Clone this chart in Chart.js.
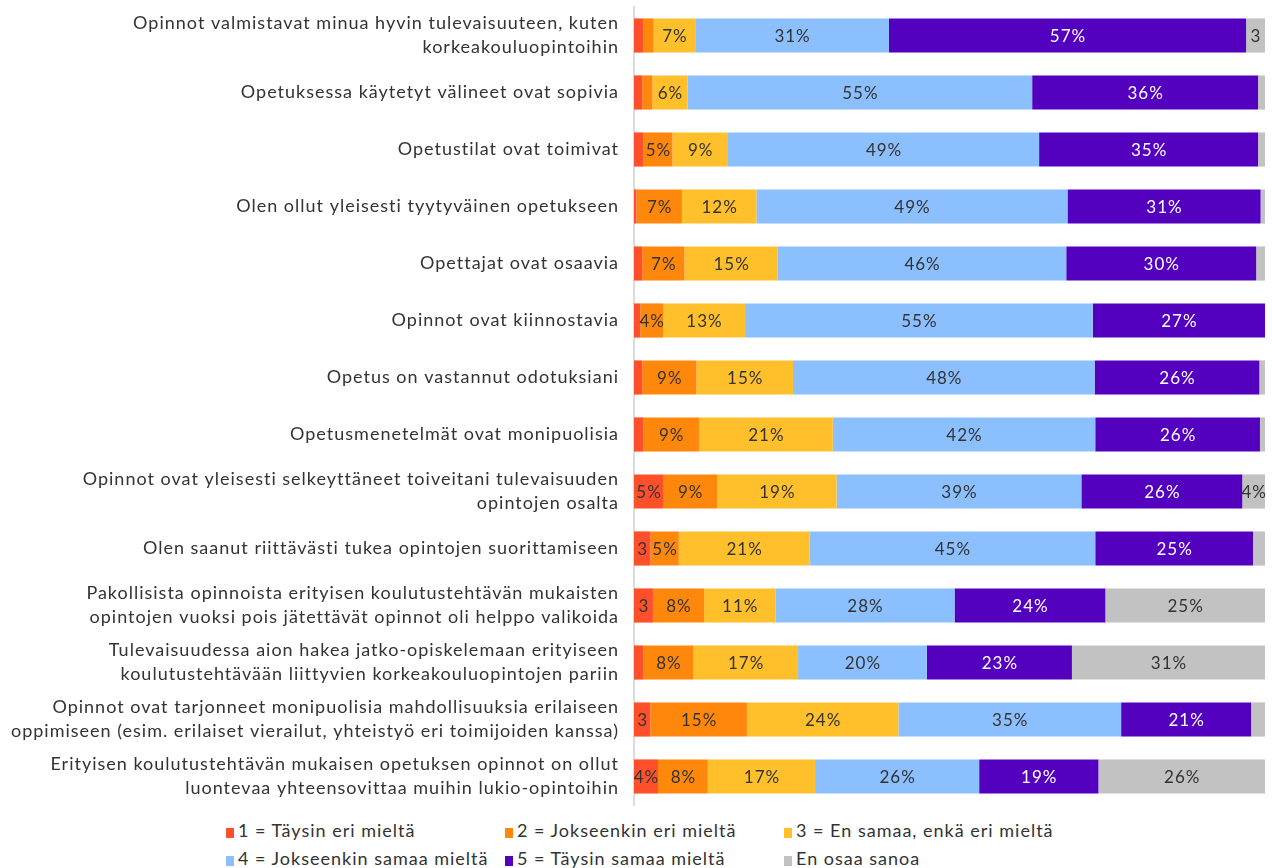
<!DOCTYPE html>
<html>
<head>
<meta charset="utf-8">
<script src="https://cdn.jsdelivr.net/npm/chart.js@4/dist/chart.umd.min.js"></script>
<style>
  body { margin: 0; background: #fff; font-family: Lato, sans-serif; }
  #wrap { position: relative; width: 1272px; height: 812px; }
  #legend { position: absolute; left: 226px; top: 816px; width: 900px; }
  .item { display: inline-block; width: 279px; height: 28px; line-height: 28px; font-size: 18px; letter-spacing: 1px; color: #333; white-space: nowrap; }
  .item i { display: inline-block; width: 8px; height: 10px; margin-right: 4px; vertical-align: -1px; }
</style>
</head>
<body>
<div id="wrap"><canvas id="chart"></canvas></div>
<div id="legend"></div>
<script>
// Kysymykset (y-akseli)
var kysymykset = [
    ["Opinnot valmistavat minua hyvin tulevaisuuteen, kuten", "korkeakouluopintoihin"],
    "Opetuksessa käytetyt välineet ovat sopivia",
    "Opetustilat ovat toimivat",
    "Olen ollut yleisesti tyytyväinen opetukseen",
    "Opettajat ovat osaavia",
    "Opinnot ovat kiinnostavia",
    "Opetus on vastannut odotuksiani",
    "Opetusmenetelmät ovat monipuolisia",
    ["Opinnot ovat yleisesti selkeyttäneet toiveitani tulevaisuuden", "opintojen osalta"],
    "Olen saanut riittävästi tukea opintojen suorittamiseen",
    ["Pakollisista opinnoista erityisen koulutustehtävän mukaisten", "opintojen vuoksi pois jätettävät opinnot oli helppo valikoida"],
    ["Tulevaisuudessa aion hakea jatko-opiskelemaan erityiseen", "koulutustehtävään liittyvien korkeakouluopintojen pariin"],
    ["Opinnot ovat tarjonneet monipuolisia mahdollisuuksia erilaiseen", "oppimiseen (esim. erilaiset vierailut, yhteistyö eri toimijoiden kanssa)"],
    ["Erityisen koulutustehtävän mukaisen opetuksen opinnot on ollut", "luontevaa yhteensovittaa muihin lukio-opintoihin"]
];

var vastaukset = [
    "1 = Täysin eri mieltä",
    "2 = Jokseenkin eri mieltä",
    "3 = En samaa, enkä eri mieltä",
    "4 = Jokseenkin samaa mieltä",
    "5 = Täysin samaa mieltä",
    "En osaa sanoa"
];

// Osuudet prosentteina, yksi lista per vastausvaihtoehto
var taysinEri     = [1.5, 1.3, 1.5, 0.4, 1.3, 1.0, 1.3, 1.5, 4.6, 2.6, 3.0, 1.5, 2.6, 3.8];
var jokseenkinEri = [1.6, 1.6, 4.6, 7.2, 6.7, 3.6, 8.6, 8.8, 8.6, 4.5, 8.1, 7.9, 15.3, 7.9];
var eiSamaaEiEri  = [6.6, 5.6, 8.8, 11.8, 14.8, 13.0, 15.3, 21.2, 18.9, 20.7, 11.3, 16.6, 24.0, 17.0];
var jokseenkinSamaa = [30.7, 54.6, 49.3, 49.3, 45.7, 55.1, 47.8, 41.6, 38.8, 45.3, 28.4, 20.4, 35.3, 26.0];
var taysinSamaa   = [56.6, 35.8, 34.7, 30.6, 30.1, 27.3, 26.1, 26.1, 25.5, 25.0, 23.9, 23.0, 20.6, 18.9];
var enOsaa        = [3.0, 1.1, 1.1, 0.7, 1.4, 0, 0.9, 0.8, 3.6, 1.9, 25.3, 30.6, 2.2, 26.4];

var sarjat = [taysinEri, jokseenkinEri, eiSamaaEiEri, jokseenkinSamaa, taysinSamaa, enOsaa];
var varit = ["#FF502B", "#FF880C", "#FFC02C", "#8BBFFE", "#5300BF", "#C2C2C2"];
var tekstivarit = ["#333", "#333", "#333", "#333", "#fff", "#333"];

var fontti = "Lato, sans-serif";

// Kirjainväli kuten alkuperäisessä kuvassa
var kirjainvali = {
    id: "kirjainvali",
    beforeDraw: function (chart) {
        chart.ctx.letterSpacing = "1px";
    }
};

// Pylväiden sisällä olevat prosenttiluvut
var arvoTekstit = {
    id: "arvoTekstit",
    afterDatasetsDraw: function (chart) {
        var ctx = chart.ctx;
        ctx.save();
        ctx.letterSpacing = "1px";
        ctx.font = "17px " + fontti;
        ctx.textAlign = "center";
        ctx.textBaseline = "middle";
        chart.data.datasets.forEach(function (ds, i) {
            var meta = chart.getDatasetMeta(i);
            meta.data.forEach(function (bar, j) {
                var v = ds.data[j];
                var teksti = "";
                if (v >= 3.5) teksti = Math.round(v) + "%";
                else if (v >= 2.5) teksti = "" + Math.round(v);
                if (!teksti) return;
                ctx.fillStyle = tekstivarit[i];
                ctx.fillText(teksti, (bar.x + bar.base) / 2 + 0.5, bar.y + 1);
            });
        });
        ctx.restore();
    }
};

var datasets = [];
for (var i = 0; i < sarjat.length; i++) {
    datasets.push({
        label: vastaukset[i],
        data: sarjat[i],
        backgroundColor: varit[i],
        borderWidth: 0,
        categoryPercentage: 1,
        barPercentage: 0.6
    });
}

var config = {
    type: "bar",
    data: {
        labels: kysymykset,
        datasets: datasets
    },
    options: {
        indexAxis: "y",
        responsive: true,
        maintainAspectRatio: false,
        animation: false,
        layout: { padding: { top: 7, bottom: 7, right: 7, left: 0 } },
        plugins: {
            legend: { display: false },
            tooltip: { enabled: false }
        },
        scales: {
            x: {
                stacked: true,
                min: 0,
                max: 100,
                display: false
            },
            y: {
                stacked: true,
                grid: { display: false, drawTicks: false },
                border: { display: true, color: "#DCDCDC", width: 2 },
                ticks: {
                    color: "#333",
                    padding: 15,
                    font: { family: fontti, size: 18, lineHeight: 1.33 }
                },
                afterFit: function (scale) {
                    scale.width = 634;
                    scale.paddingTop = 0;
                    scale.paddingBottom = 0;
                }
            }
        }
    },
    plugins: [kirjainvali, arvoTekstit]
};

var kaavio = new Chart(document.getElementById("chart"), config);

// Selite kahteen riviin kuten alkuperäisessä
var selite = document.getElementById("legend");
vastaukset.forEach(function (nimi, i) {
    var el = document.createElement("span");
    el.className = "item";
    el.innerHTML = '<i style="background:' + varit[i] + '"></i>' + nimi;
    selite.appendChild(el);
});
</script>
</body>
</html>
